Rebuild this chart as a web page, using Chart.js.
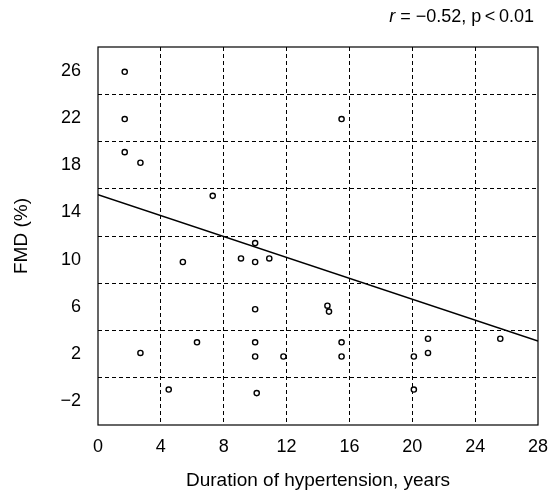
<!DOCTYPE html>
<html>
<head>
<meta charset="utf-8">
<script src="https://cdn.jsdelivr.net/npm/chart.js@4"></script>
<style>
  html, body { margin: 0; padding: 0; background: #fff; }
  #wrap { width: 551px; height: 492px; }
</style>
</head>
<body>
<div id="wrap"><canvas id="chart" width="551" height="492"></canvas></div>
<script>
// FMD vs duration of hypertension.

const DURATION_YEARS = [
  1.7, 1.7, 1.7, 2.7, 7.3,
  10.0, 5.4, 9.1, 10.0, 10.9, 10.0, 6.3, 2.7, 10.0, 10.0, 11.8, 4.5, 10.1,
  15.5,
  14.6, 14.7, 15.5, 15.5, 20.1, 21.0, 21.0, 25.6, 20.1,
];
const FMD_PCT = [
  25.9, 21.9, 19.1, 18.2, 15.4,
  11.4, 9.8, 10.1, 9.8, 10.1, 5.8, 3.0, 2.1, 3.0, 1.8, 1.8, -1.0, -1.3,
  21.9,
  6.1, 5.6, 3.0, 1.8, 1.8, 3.3, 2.1, 3.3, -1.0,
];

// Regression line end points (x, y) as seen in the picture.
const FIT_X = [0, 28];
const FIT_Y = [15.5, 3.1];

const X_TICKS = [0, 4, 8, 12, 16, 20, 24, 28];
const Y_LABELS = [-2, 2, 6, 10, 14, 18, 22, 26];
const Y_GRID = [0, 4, 8, 12, 16, 20, 24];

const ANNOT_R = "r";
const ANNOT_REST = " = \u22120.52, p\u2009<\u20090.01";

const FONT = "'Liberation Sans', Arial, sans-serif";

function fmtNum(v) {
  return v < 0 ? "\u2212" + Math.abs(v) : String(v);
}

// Frame around the plot plus the r / p note at top right.
const framePlugin = {
  id: "frame",
  afterDraw(chart) {
    const { ctx, chartArea: a } = chart;
    ctx.save();
    ctx.strokeStyle = "#000";
    ctx.lineWidth = 1.2;
    ctx.setLineDash([]);
    ctx.strokeRect(a.left, a.top, a.right - a.left, a.bottom - a.top);

    ctx.fillStyle = "#000";
    ctx.textBaseline = "alphabetic";
    ctx.font = "18px " + FONT;
    const restW = ctx.measureText(ANNOT_REST).width;
    ctx.textAlign = "right";
    ctx.fillText(ANNOT_REST, a.right - 4, 22);
    ctx.font = "italic 18px " + FONT;
    ctx.fillText(ANNOT_R, a.right - 4 - restW, 22);
    ctx.restore();
  },
};

const points = DURATION_YEARS.map((x, i) => ({ x, y: FMD_PCT[i] }));
const fit = FIT_X.map((x, i) => ({ x, y: FIT_Y[i] }));

new Chart(document.getElementById("chart"), {
  type: "scatter",
  data: {
    datasets: [
      {
        label: "Fit",
        type: "line",
        data: fit,
        borderColor: "#000",
        borderWidth: 1.5,
        pointRadius: 0,
        fill: false,
        order: 2,
      },
      {
        label: "Patients",
        data: points,
        pointStyle: "circle",
        pointRadius: 2.6,
        pointBorderWidth: 1.4,
        pointBackgroundColor: "#fff",
        pointBorderColor: "#000",
        order: 1,
      },
    ],
  },
  options: {
    responsive: false,
    animation: false,
    layout: { padding: { top: 47, right: 13, left: 0, bottom: 0 } },
    plugins: {
      legend: { display: false },
      tooltip: { enabled: false },
    },
    scales: {
      x: {
        type: "linear",
        min: 0,
        max: 28,
        afterBuildTicks: s => { s.ticks = X_TICKS.map(v => ({ value: v })); },
        afterFit: s => { s.height = 67; s.paddingLeft = 0; s.paddingRight = 0; },
        grid: {
          drawTicks: false,
          lineWidth: 1,
          color: c => (c.tick && c.tick.value > 0 && c.tick.value < 28) ? "#000" : "rgba(0,0,0,0)",
        },
        border: { display: false, dash: [4, 3] },
        ticks: {
          padding: 11,
          color: "#000",
          font: { family: FONT, size: 18 },
          callback: v => fmtNum(v),
        },
        title: {
          display: true,
          text: "Duration of hypertension, years",
          color: "#000",
          font: { family: FONT, size: 19 },
          padding: { top: 12, bottom: 0 },
        },
      },
      y: {
        type: "linear",
        min: -4,
        max: 28,
        afterBuildTicks: s => {
          s.ticks = Y_LABELS.concat(Y_GRID).sort((a, b) => a - b).map(v => ({ value: v }));
        },
        afterFit: s => { s.width = 98; s.paddingTop = 0; s.paddingBottom = 0; },
        grid: {
          drawTicks: false,
          lineWidth: 1,
          color: c => (c.tick && Y_GRID.includes(c.tick.value)) ? "#000" : "rgba(0,0,0,0)",
        },
        border: { display: false, dash: [4, 3] },
        ticks: {
          padding: 17,
          color: "#000",
          font: { family: FONT, size: 18 },
          callback: v => Y_LABELS.includes(v) ? fmtNum(v) : "",
        },
        title: {
          display: true,
          text: "FMD (%)",
          color: "#000",
          font: { family: FONT, size: 19 },
          padding: { top: 10, bottom: 0 },
        },
      },
    },
  },
  plugins: [framePlugin],
});
</script>
</body>
</html>
